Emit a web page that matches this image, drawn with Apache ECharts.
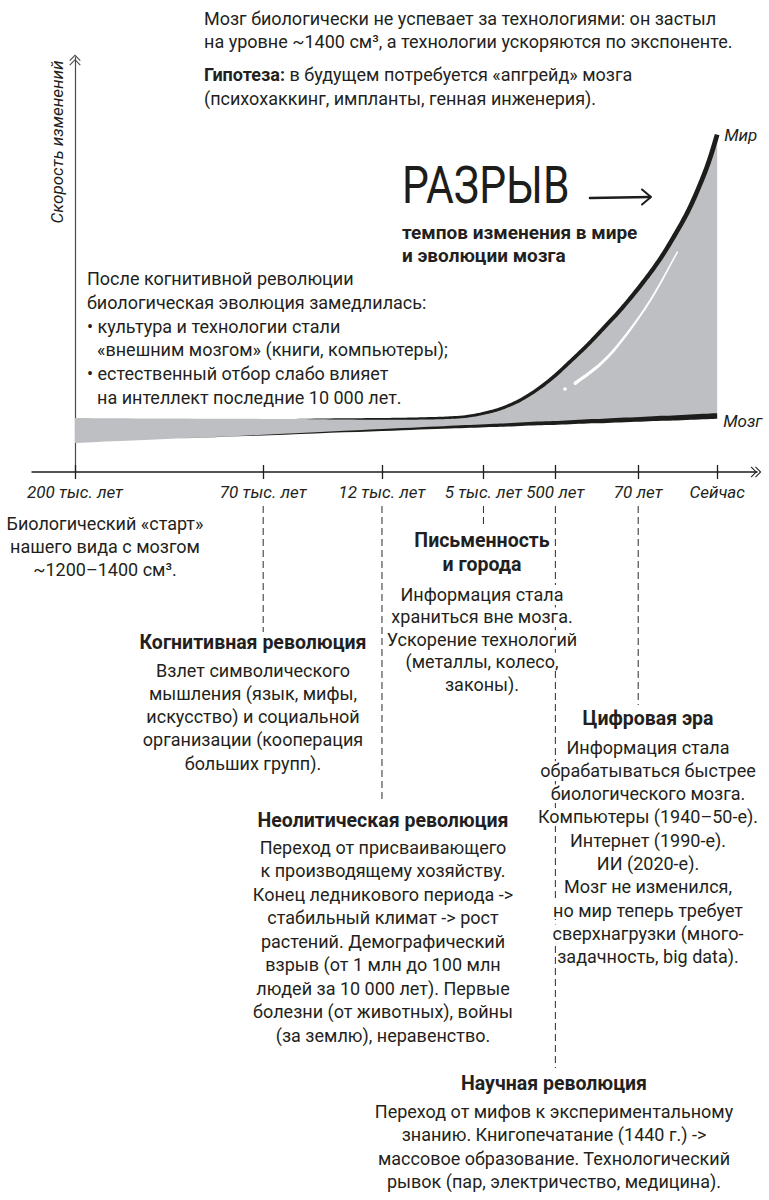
<!DOCTYPE html>
<html>
<head>
<meta charset="utf-8">
<script src="https://cdn.jsdelivr.net/npm/echarts@6/dist/echarts.min.js"></script>
<style>
html,body{margin:0;padding:0;background:#ffffff;}
#c{width:769px;height:1200px;}
</style>
</head>
<body>
<div id="c"></div>
<script>
// ---------- data ----------
// schematic, non-linear time axis: positions 0 (200 тыс. лет назад) .. 100 (сейчас)
const TICK_LABELS = ['200 тыс. лет', '70 тыс. лет', '12 тыс. лет', '5 тыс. лет', '500 лет', '70 лет', 'Сейчас'];
const TICK_POS    = [0, 29.3, 47.8, 63.6, 74.8, 87.7, 100];

// sample positions along the time axis
const X     = [0, 11.7, 29.3, 39.7, 47.8, 53.7, 58.4, 61.5, 64.6, 66.7, 69.3, 72.0, 74.5, 77.1, 79.8, 82.2, 84.9, 88.0, 90.7, 93.1, 95.8, 98.4, 100];
// "Мир" – speed of change of the world (technology)
const WORLD = [13.0, 12.9, 12.8, 12.8, 12.8, 12.9, 13.1, 13.5, 14.5, 15.5, 17.3, 19.9, 22.9, 26.6, 30.6, 34.5, 39.0, 44.8, 50.4, 56.3, 63.9, 73.5, 81.3];
// "Мозг" – speed of biological brain evolution
const BRAIN = [7.0, 7.8, 8.9, 9.6, 10.1, 10.5, 10.8, 11.0, 11.2, 11.3, 11.5, 11.7, 11.8, 12.0, 12.2, 12.3, 12.5, 12.7, 12.9, 13.0, 13.2, 13.4, 13.5];

// decorative white gloss stroke inside the gap
const GLOSS_X = [77.9, 81.8, 85.2, 89.6, 93.8];
const GLOSS_Y = [21.4, 26.0, 31.8, 41.4, 53.0];
const GLOSS_DOT = [76.3, 20.0];

const LINE_WORLD = 'Мир';
const LINE_BRAIN = 'Мозг';

// ---------- texts ----------
const TOP_LINES = [
  'Мозг биологически не успевает за технологиями: он застыл',
  'на уровне ~1400 см³, а технологии ускоряются по экспоненте.',
  '{b|Гипотеза:} в будущем потребуется «апгрейд» мозга',
  '(психохаккинг, импланты, генная инженерия).'
];
const LEFT_LINES = [
  ['После когнитивной революции', 0],
  ['биологическая эволюция замедлилась:', 0],
  ['• культура и технологии стали', 0],
  ['«внешним мозгом» (книги, компьютеры);', 1],
  ['• естественный отбор слабо влияет', 0],
  ['на интеллект последние 10 000 лет.', 1]
];
const BLOCKS = [
  {cx: 105, head: [], hy: 0, body: ['Биологический «старт»', 'нашего вида с мозгом', '~1200–1400 см³.'], by: 523, lh: 23},
  {cx: 253, head: ['Когнитивная революция'], hy: 642, body: ['Взлет символического', 'мышления (язык, мифы,', 'искусство) и социальной', 'организации (кооперация', 'больших групп).'], by: 670, lh: 23.3},
  {cx: 383, head: ['Неолитическая революция'], hy: 820, body: ['Переход от присваивающего', 'к производящему хозяйству.', 'Конец ледникового периода ->', 'стабильный климат -> рост', 'растений. Демографический', 'взрыв (от 1 млн до 100 млн', 'людей за 10 000 лет). Первые', 'болезни (от животных), войны', '(за землю), неравенство.'], by: 847, lh: 23.5},
  {cx: 482, head: ['Письменность', 'и города'], hy: 540, body: ['Информация стала', 'храниться вне мозга.', 'Ускорение технологий', '(металлы, колесо,', 'законы).'], by: 594, lh: 22.6},
  {cx: 648, head: ['Цифровая эра'], hy: 718, body: ['Информация стала', 'обрабатываться быстрее', 'биологического мозга.', 'Компьютеры (1940–50-е).', 'Интернет (1990-е).', 'ИИ (2020-е).', 'Мозг не изменился,', 'но мир теперь требует', 'сверхнагрузки (много-', 'задачность, big data).'], by: 747, lh: 23.3},
  {cx: 554, head: ['Научная революция'], hy: 1083, body: ['Переход от мифов к экспериментальному', 'знанию. Книгопечатание (1440 г.) ->', 'массовое образование. Технологический', 'рывок (пар, электричество, медицина).'], by: 1111, lh: 23.5}
];
// dashed leader lines: tick index -> bottom end (px)
const LEADERS = [[1, 637], [2, 803], [3, 528], [4, 1068], [5, 705]];

const INK = '#231f20';
const GREY = '#bdbfc2';
const FONT = 'Roboto, "Noto Sans", sans-serif';

const CHEVRON = 'path://M1,11 L11,1 L21,11 L19.6,12.3 L11,3.7 L2.4,12.3 Z M1,19 L11,9 L21,19 L19.6,20.3 L11,11.7 L2.4,20.3 Z';

function labelFor(v) {
  let best = 0, d = Infinity;
  TICK_POS.forEach((p, i) => { const dd = Math.abs(p - v); if (dd < d) { d = dd; best = i; } });
  return TICK_LABELS[best];
}
function clamp01(t) { return Math.max(0, Math.min(1, t)); }
function spline(pts, seg) {
  const out = [];
  const n = pts.length;
  for (let i = 0; i < n - 1; i++) {
    const p0 = pts[Math.max(i - 1, 0)], p1 = pts[i], p2 = pts[i + 1], p3 = pts[Math.min(i + 2, n - 1)];
    for (let s = 0; s < seg; s++) {
      const t = s / seg, t2 = t * t, t3 = t2 * t;
      const f = k => 0.5 * ((2 * p1[k]) + (-p0[k] + p2[k]) * t + (2 * p0[k] - 5 * p1[k] + 4 * p2[k] - p3[k]) * t2 + (-p0[k] + 3 * p1[k] - 3 * p2[k] + p3[k]) * t3);
      out.push([f(0), f(1)]);
    }
  }
  out.push(pts[n - 1].slice());
  return out;
}
function taper(pts, wfn) {
  const L = [], R = [];
  const n = pts.length;
  for (let i = 0; i < n; i++) {
    const a = pts[Math.max(i - 1, 0)], b = pts[Math.min(i + 1, n - 1)];
    let dx = b[0] - a[0], dy = b[1] - a[1];
    const len = Math.hypot(dx, dy) || 1; dx /= len; dy /= len;
    const h = wfn(pts[i], i / (n - 1)) / 2;
    L.push([pts[i][0] - dy * h, pts[i][1] + dx * h]);
    R.push([pts[i][0] + dy * h, pts[i][1] - dx * h]);
  }
  return L.concat(R.reverse());
}

function renderItem(params, api) {
  if (params.dataIndex !== 0) return null;
  const w = X.map((x, i) => api.coord([x, WORLD[i]]));
  const b = X.map((x, i) => api.coord([x, BRAIN[i]]));
  const wD = spline(w, 12), bD = spline(b, 4);
  const g = spline(GLOSS_X.map((x, i) => api.coord([x, GLOSS_Y[i]])), 10);
  const dot = api.coord(GLOSS_DOT);
  const xEnd = w[w.length - 1][0];
  const wStart = api.coord([35, 0])[0];
  const bStart = api.coord([19, 0])[0];
  const band = wD.concat(bD.slice().reverse());
  const g0 = g[0], g1 = g[g.length - 1];
  return {
    type: 'group',
    children: [
      {type: 'polygon', shape: {points: band}, style: {fill: GREY}},
      {type: 'polygon', shape: {points: taper(bD, p => 5.6 * clamp01((p[0] - bStart) / (xEnd - bStart)))}, style: {fill: '#1d1d1b'}},
      {type: 'polygon', shape: {points: taper(wD, p => 4.8 * Math.pow(clamp01((p[0] - wStart) / (xEnd - wStart)), 0.6))}, style: {fill: '#1d1d1b'}},
      {type: 'polygon', shape: {points: taper(g, (p, t) => 3.4 - 2.0 * t)}, style: {fill: '#ffffff'}},
      {type: 'circle', shape: {cx: g0[0], cy: g0[1], r: 1.7}, style: {fill: '#ffffff'}},
      {type: 'circle', shape: {cx: g1[0], cy: g1[1], r: 0.7}, style: {fill: '#ffffff'}},
      {type: 'circle', shape: {cx: dot[0], cy: dot[1], r: 1.8}, style: {fill: '#ffffff'}}
    ]
  };
}

const chart = echarts.init(document.getElementById('c'), null, {renderer: 'svg', width: 769, height: 1200});

const tickStyle = {color: '#1d1d1b', width: 1.3};
const option = {
  animation: false,
  backgroundColor: '#ffffff',
  grid: {left: 32, right: 12, top: 57, bottom: 728},
  xAxis: [{
    type: 'value', min: -6.7, max: 106.2, position: 'bottom',
    axisLine: {show: true, onZero: true, symbol: ['none', CHEVRON], symbolSize: [11, 12], symbolOffset: [0, -1], lineStyle: {color: '#1d1d1b', width: 1.5}},
    axisTick: {show: true, customValues: TICK_POS, length: 7, lineStyle: tickStyle},
    axisLabel: {show: true, customValues: TICK_POS, formatter: v => labelFor(v), margin: 11, color: INK, fontFamily: FONT, fontStyle: 'italic', fontSize: 17},
    splitLine: {show: false}
  }, {
    type: 'value', min: -6.7, max: 106.2, position: 'bottom',
    axisLine: {show: false},
    axisTick: {show: true, inside: true, customValues: TICK_POS, length: 7, lineStyle: tickStyle},
    axisLabel: {show: false},
    splitLine: {show: false}
  }],
  yAxis: {
    type: 'value', min: 0, max: 100,
    axisLine: {show: true, onZero: true, symbol: ['none', CHEVRON], symbolSize: [12, 11], symbolOffset: [0, -3], lineStyle: {color: '#4a4a4a', width: 1.2}},
    axisTick: {show: false}, axisLabel: {show: false}, splitLine: {show: false}
  },
  series: [{
    type: 'custom', name: 'gap', silent: true, z: 2,
    renderItem: renderItem,
    data: X.map((x, i) => [x, WORLD[i], BRAIN[i]]),
    encode: {x: 0, y: [1, 2]}
  }]
};
chart.setOption(option);

// ---------- annotations ----------
function txt(x, y, text, o) {
  o = o || {};
  const style = {
    text: text, x: 0, y: 0,
    fill: o.fill || INK,
    fontFamily: FONT,
    fontSize: o.size || 18,
    fontWeight: o.weight || 'normal',
    fontStyle: o.italic ? 'italic' : 'normal',
    align: o.align || 'left', textAlign: o.align || 'left',
    verticalAlign: 'middle', textVerticalAlign: 'middle'
  };
  if (o.bg) { style.backgroundColor = '#ffffff'; style.padding = [0, 1]; }
  if (o.rich) style.rich = o.rich;
  const el = {type: 'text', x: x, y: y, z: 10, silent: true, style: style};
  if (o.rotation) el.rotation = o.rotation;
  if (o.scaleX) el.scaleX = o.scaleX;
  return el;
}

const graphics = [];
const yBase = chart.convertToPixel({gridIndex: 0}, [0, 0])[1];

// dashed leaders
LEADERS.forEach(([ti, yEnd]) => {
  const px = chart.convertToPixel({xAxisIndex: 0}, TICK_POS[ti]);
  graphics.push({type: 'line', z: 5, silent: true,
    shape: {x1: px, y1: yBase + 34, x2: px, y2: yEnd},
    style: {stroke: '#2b2b2b', lineWidth: 1, lineDash: [7, 4]}});
});

// top text
const boldRich = {b: {fontFamily: FONT, fontSize: 18, fontWeight: 'bold', fill: INK}};
[18, 41, 74, 98].forEach((y, i) => graphics.push(txt(204, y, TOP_LINES[i], {rich: boldRich})));

// y-axis title
graphics.push(txt(57, 142, 'Скорость изменений', {italic: true, size: 17, align: 'center', rotation: Math.PI / 2}));

// left note
[278, 302, 326, 349.5, 373.5, 397].forEach((y, i) => graphics.push(txt(87 + LEFT_LINES[i][1] * 10, y, LEFT_LINES[i][0])));

// gap title
graphics.push(txt(402, 186, 'РАЗРЫВ', {size: 52, weight: 'normal', scaleX: 0.82, fill: '#1d1d1b'}));
graphics.push({type: 'line', z: 10, silent: true, shape: {x1: 590, y1: 198, x2: 650, y2: 197}, style: {stroke: '#1d1d1b', lineWidth: 2.6, lineCap: 'round'}});
graphics.push({type: 'polyline', z: 10, silent: true, shape: {points: [[642, 189.5], [651, 197], [642, 204.5]]}, style: {stroke: '#1d1d1b', lineWidth: 2, lineCap: 'round', lineJoin: 'round', fill: null}});
graphics.push(txt(402, 232, 'темпов изменения в мире', {weight: 'bold', size: 19}));
graphics.push(txt(402, 255, 'и эволюции мозга', {weight: 'bold', size: 19}));

// series end labels
const pW = chart.convertToPixel({gridIndex: 0}, [X[X.length - 1], WORLD[WORLD.length - 1]]);
const pB = chart.convertToPixel({gridIndex: 0}, [X[X.length - 1], BRAIN[BRAIN.length - 1]]);
graphics.push(txt(pW[0] + 7, pW[1], LINE_WORLD, {italic: true, size: 17}));
graphics.push(txt(pB[0] + 6, pB[1] + 5, LINE_BRAIN, {italic: true, size: 17}));

// timeline blocks
BLOCKS.forEach(bk => {
  bk.head.forEach((h, i) => graphics.push(txt(bk.cx, bk.hy + i * 24, h, {weight: 'bold', size: 19.5, align: 'center', bg: true})));
  bk.body.forEach((l, i) => graphics.push(txt(bk.cx, bk.by + i * bk.lh, l, {align: 'center', bg: true})));
});

chart.setOption({graphic: {elements: graphics}});
</script>
</body>
</html>
